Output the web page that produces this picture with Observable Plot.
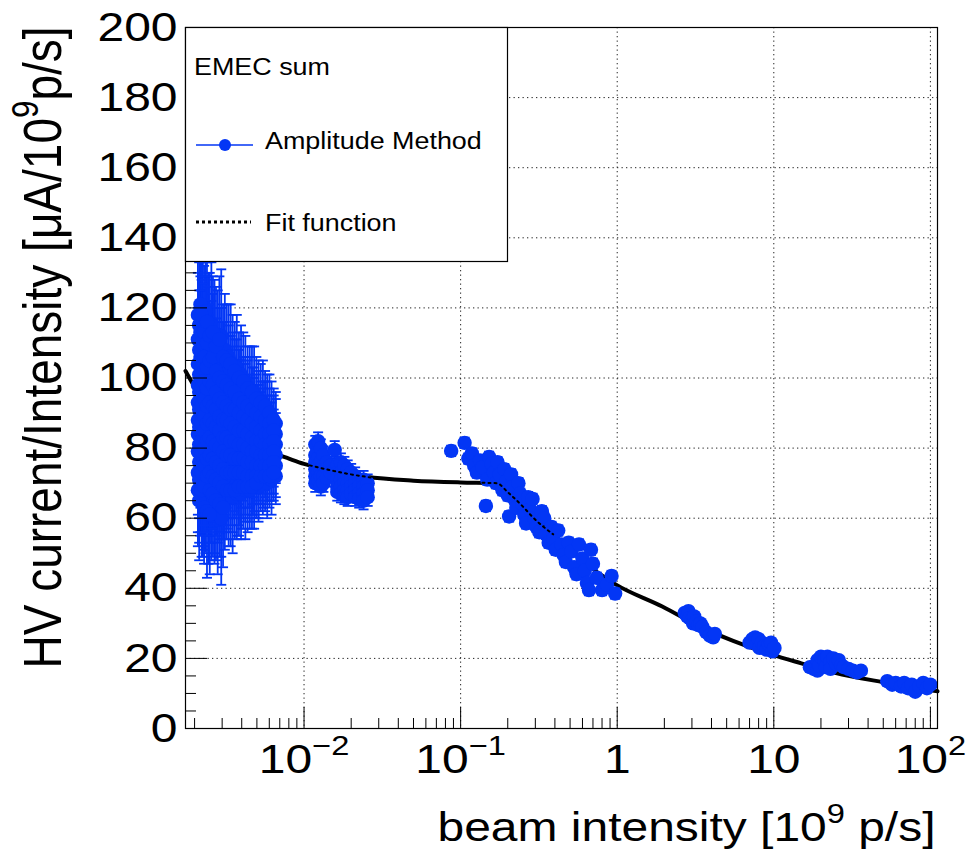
<!DOCTYPE html>
<html><head><meta charset="utf-8">
<script src="https://cdn.jsdelivr.net/npm/d3@7"></script>
<script src="https://cdn.jsdelivr.net/npm/@observablehq/plot@0.6"></script>
<style>
html,body{margin:0;padding:0;background:#fff;}
#chart{width:968px;height:854px;}
</style></head><body><div id="chart"></div>
<script>
// ---------- data ----------
// [beam intensity (1e9 p/s), current/intensity, error]
const clusterA = [
  [0.00210,118,17],[0.00210,111,19],[0.00210,104,16],[0.00210,98,18],[0.00210,93,15],[0.00210,88,17],[0.00210,84,16],[0.00210,79,18],[0.00210,73,17],[0.00210,68,16],
  [0.00218,121,18],[0.00218,113,16],[0.00218,106,19],[0.00218,100,17],[0.00218,95,16],[0.00218,90,18],[0.00218,85,15],[0.00218,80,17],[0.00218,75,19],[0.00218,70,15],
  [0.00226,116,17],[0.00226,109,18],[0.00226,102,15],[0.00226,97,19],[0.00226,92,17],[0.00226,87,16],[0.00226,83,18],[0.00226,77,16],[0.00226,72,20],[0.00226,66,17],
  [0.00235,119,19],[0.00235,112,17],[0.00235,105,16],[0.00235,99,18],[0.00235,94,15],[0.00235,89,17],[0.00235,84,19],[0.00235,78,16],[0.00235,73,18],[0.00235,67,17],
  [0.00245,114,16],[0.00245,108,18],[0.00245,101,17],[0.00245,96,15],[0.00245,91,18],[0.00245,86,16],[0.00245,81,17],[0.00245,76,19],[0.00245,71,16],[0.00245,65,18],
  [0.00256,115,18],[0.00256,107,15],[0.00256,100,17],[0.00256,95,16],[0.00256,90,19],[0.00256,85,17],[0.00256,80,15],[0.00256,75,18],[0.00256,70,17],[0.00256,64,16],
  [0.00268,111,17],[0.00268,104,16],[0.00268,98,18],[0.00268,93,15],[0.00268,88,17],[0.00268,84,16],[0.00268,79,18],[0.00268,74,15],[0.00268,69,19],[0.00268,63,16],
  [0.00281,110,15],[0.00281,103,17],[0.00281,97,16],[0.00281,92,18],[0.00281,87,15],[0.00281,83,17],[0.00281,78,16],[0.00281,73,17],[0.00281,68,15],[0.00281,62,18],
  [0.00296,112,19],[0.00296,104,16],[0.00296,96,17],[0.00296,91,15],[0.00296,86,16],[0.00296,82,18],[0.00296,77,15],[0.00296,72,16],[0.00296,67,18],[0.00296,60,19],
  [0.00312,108,16],[0.00312,101,15],[0.00312,95,17],[0.00312,90,16],[0.00312,86,14],[0.00312,81,16],[0.00312,76,15],[0.00312,71,17],[0.00312,66,15],
  [0.00330,106,15],[0.00330,99,16],[0.00330,94,14],[0.00330,89,16],[0.00330,85,15],[0.00330,80,14],[0.00330,76,16],[0.00330,71,15],[0.00330,66,14],
  [0.00350,104,14],[0.00350,98,15],[0.00350,93,16],[0.00350,88,14],[0.00350,84,15],[0.00350,80,13],[0.00350,75,15],[0.00350,70,14],[0.00350,66,16],
  [0.00372,103,15],[0.00372,97,14],[0.00372,92,13],[0.00372,88,15],[0.00372,84,14],[0.00372,79,13],[0.00372,75,14],[0.00372,70,15],[0.00372,67,13],
  [0.00396,101,14],[0.00396,96,13],[0.00396,91,14],[0.00396,87,12],[0.00396,83,14],[0.00396,79,13],[0.00396,75,12],[0.00396,71,14],[0.00396,67,13],
  [0.00422,99,13],[0.00422,94,12],[0.00422,90,14],[0.00422,86,12],[0.00422,82,13],[0.00422,78,12],[0.00422,74,13],[0.00422,71,12],[0.00422,68,14],
  [0.00450,97,12],[0.00450,93,13],[0.00450,89,12],[0.00450,85,11],[0.00450,81,13],[0.00450,78,12],[0.00450,74,11],[0.00450,71,12],[0.00450,68,11],
  [0.00480,96,13],[0.00480,92,11],[0.00480,88,12],[0.00480,84,11],[0.00480,81,12],[0.00480,77,11],[0.00480,74,12],[0.00480,71,10],[0.00480,69,12],
  [0.00512,94,11],[0.00512,90,12],[0.00512,87,11],[0.00512,83,10],[0.00512,80,11],[0.00512,77,12],[0.00512,74,10],[0.00512,71,11],[0.00512,69,10],
  [0.00546,93,12],[0.00546,89,10],[0.00546,86,11],[0.00546,83,10],[0.00546,80,11],[0.00546,77,10],[0.00546,74,11],[0.00546,71,10],
  [0.00582,91,10],[0.00582,88,11],[0.00582,85,10],[0.00582,82,9],[0.00582,79,10],[0.00582,76,11],[0.00582,73,9],[0.00582,70,10],
  [0.00620,89,10],[0.00620,86,9],[0.00620,83,10],[0.00620,80,9],[0.00620,77,10],[0.00620,74,9],[0.00620,71,10],
  [0.00660,87,9],[0.00660,84,10],[0.00660,81,9],[0.00660,78,8],[0.00660,75,9],[0.00660,72,8]
];
const clusterA2 = [
  [0.00214,115,18],[0.00214,108,17],[0.00214,101,19],[0.00214,96,16],[0.00214,91,18],[0.00214,86,15],[0.00214,81,17],[0.00214,76,16],[0.00214,71,18],[0.00214,65,17],
  [0.00222,118,16],[0.00222,110,18],[0.00222,103,17],[0.00222,97,15],[0.00222,92,19],[0.00222,87,16],[0.00222,82,18],[0.00222,78,15],[0.00222,73,17],[0.00222,68,19],
  [0.00230,113,19],[0.00230,106,16],[0.00230,99,18],[0.00230,94,17],[0.00230,89,15],[0.00230,85,18],[0.00230,80,16],[0.00230,75,17],[0.00230,69,18],[0.00230,63,16],
  [0.00240,116,17],[0.00240,110,19],[0.00240,103,16],[0.00240,97,17],[0.00240,92,16],[0.00240,87,18],[0.00240,82,15],[0.00240,77,17],[0.00240,72,16],[0.00240,62,19],
  [0.00250,112,18],[0.00250,105,16],[0.00250,99,17],[0.00250,93,19],[0.00250,88,15],[0.00250,83,17],[0.00250,78,16],[0.00250,73,18],[0.00250,68,15],[0.00250,61,17],
  [0.00262,113,16],[0.00262,106,18],[0.00262,98,15],[0.00262,92,17],[0.00262,87,18],[0.00262,82,16],[0.00262,77,17],[0.00262,72,15],[0.00262,67,18],
  [0.00274,109,17],[0.00274,102,15],[0.00274,96,18],[0.00274,91,16],[0.00274,86,17],[0.00274,81,15],[0.00274,76,18],[0.00274,71,16],[0.00274,65,17],
  [0.00288,111,18],[0.00288,100,16],[0.00288,94,15],[0.00288,89,17],[0.00288,85,16],[0.00288,80,15],[0.00288,75,17],[0.00288,70,16],[0.00288,64,15],
  [0.00304,106,15],[0.00304,99,17],[0.00304,93,16],[0.00304,88,15],[0.00304,83,17],[0.00304,79,14],[0.00304,74,16],[0.00304,69,15],[0.00304,63,17],
  [0.00321,105,16],[0.00321,98,14],[0.00321,92,15],[0.00321,88,16],[0.00321,83,14],[0.00321,78,15],[0.00321,73,16],[0.00321,68,14],
  [0.00340,104,17],[0.00340,97,15],[0.00340,91,14],[0.00340,87,15],[0.00340,82,16],[0.00340,78,14],[0.00340,73,15],[0.00340,68,16],
  [0.00361,102,14],[0.00361,96,15],[0.00361,91,13],[0.00361,86,15],[0.00361,82,14],[0.00361,77,15],[0.00361,73,13],[0.00361,68,14],
  [0.00384,100,13],[0.00384,94,14],[0.00384,90,15],[0.00384,85,13],[0.00384,81,14],[0.00384,77,13],[0.00384,73,15],[0.00384,69,14],
  [0.00409,99,14],[0.00409,93,13],[0.00409,89,12],[0.00409,85,14],[0.00409,81,13],[0.00409,77,12],[0.00409,73,13],[0.00409,69,12],
  [0.00436,97,12],[0.00436,92,13],[0.00436,88,12],[0.00436,84,13],[0.00436,80,12],[0.00436,76,13],[0.00436,72,12],[0.00436,69,13],
  [0.00465,96,13],[0.00465,91,12],[0.00465,87,11],[0.00465,83,12],[0.00465,79,11],[0.00465,76,12],[0.00465,72,11],[0.00465,69,12],
  [0.00496,94,12],[0.00496,90,11],[0.00496,86,12],[0.00496,82,11],[0.00496,79,12],[0.00496,75,11],[0.00496,72,12],[0.00496,70,10],
  [0.00529,93,11],[0.00529,89,10],[0.00529,85,11],[0.00529,82,12],[0.00529,78,10],[0.00529,75,11],[0.00529,72,10],
  [0.00564,92,10],[0.00564,88,11],[0.00564,84,10],[0.00564,81,11],[0.00564,78,10],[0.00564,75,9],[0.00564,72,10],
  [0.00601,90,11],[0.00601,87,10],[0.00601,84,9],[0.00601,81,10],[0.00601,78,9],[0.00601,75,10],[0.00601,72,9],
  [0.00640,88,9],[0.00640,85,10],[0.00640,82,9],[0.00640,79,10],[0.00640,76,9],[0.00640,73,8]
];
const clusterB = [
  [0.0118,81,2.5],[0.0118,78,2.5],[0.0118,76,2.5],[0.0118,74,2.5],[0.0118,72,2.5],[0.0118,70,2.5],
  [0.0123,82,2.5],[0.0123,77,2.5],[0.0123,75,2.5],[0.0123,73,2.5],[0.0123,71,2.5],
  [0.0128,80,2.5],[0.0128,76,2.5],[0.0128,74,2.5],[0.0128,72,2.5],[0.0128,69,2.5],
  [0.0133,78,2.5],[0.0133,75,2.5],[0.0133,72,2.5],[0.0133,70,2.5],
  [0.0140,76,2.5],[0.0140,74,2.5],[0.0140,71.5,2.5],
  [0.0148,75,2.5],[0.0148,73,2.5],
  [0.0157,79.5,2.5],
  [0.0163,75,2.5],[0.0163,73,2.5],[0.0163,71,2.5],[0.0163,69,2.5],[0.0163,67.5,2.5],
  [0.0172,76,2.5],[0.0172,73,2.5],[0.0172,71,2.5],[0.0172,69,2.5],[0.0172,67,2.5],
  [0.0181,75,2.5],[0.0181,72,2.5],[0.0181,70,2.5],[0.0181,68,2.5],[0.0181,66.5,2.5],
  [0.0190,74,2.5],[0.0190,72,2.5],[0.0190,70,2.5],[0.0190,68,2.5],[0.0190,66,2.5],
  [0.0200,73,2.5],[0.0200,71,2.5],[0.0200,69,2.5],[0.0200,67,2.5],
  [0.0212,72,2.5],[0.0212,70,2.5],[0.0212,68,2.5],[0.0212,66,2.5],
  [0.0225,71,2.5],[0.0225,69,2.5],[0.0225,67,2.5],[0.0225,65.5,2.5],
  [0.0240,71,2.5],[0.0240,69,2.5],[0.0240,67,2.5],[0.0240,65,2.5],
  [0.0255,70,2.5],[0.0255,68,2.5],[0.0255,66,2.5]
];
const clusterC = [
  [0.087,79.2,1.5],[0.106,81.5,1.5],[0.112,77,1.5],[0.118,78.5,1.5],[0.122,75,1.5],[0.127,73,1.5],
  [0.133,76.5,1.5],[0.138,74.5,1.5],[0.145,63.5,1.5],[0.148,71,1.5],[0.152,77.5,1.5],[0.158,75.5,1.5],
  [0.163,73,1.5],[0.168,70,1.5],[0.172,76,1.5],[0.178,72.5,1.5],[0.185,68,1.5],[0.19,74,1.5],
  [0.196,70.5,1.5],[0.2,66.5,1.5],[0.204,60.5,1.5],[0.21,72.5,1.5],[0.215,69,1.5],[0.22,65.5,1.5],
  [0.227,63,1.5],[0.234,70,1.5],[0.24,67,1.5],[0.248,64,1.5],[0.255,61,1.5],[0.262,58.5,1.5],
  [0.27,66,1.5],[0.278,62.5,1.5],[0.288,65.5,1.5],[0.295,60,1.5],[0.305,57.5,1.5],[0.318,56,1.5],
  [0.33,62,1.5],[0.342,60,1.5],[0.35,55.5,1.5],[0.365,53,1.5],[0.38,57.5,1.5],[0.39,54,1.5],
  [0.405,51,1.5],[0.42,56.5,1.5],[0.44,52.5,1.5],[0.455,49.5,1.5],[0.47,47.5,1.5],[0.49,53,1.5],
  [0.51,50.5,1.5],[0.53,46,1.5],[0.55,44,1.5],[0.57,52.5,1.5],[0.6,48.5,1.5],[0.62,45,1.5],
  [0.64,41.5,1.5],[0.66,39.5,1.5],[0.68,51,1.5],[0.7,47,1.5],[0.74,43,1.5],[0.8,39.5,1.5],
  [0.86,41,1.5],[0.92,43.5,1.5],[0.97,38.5,1.5]
];
const clusterD = [
  [2.7,33,0.8],[2.8,32,0.8],[2.85,33.5,0.8],[2.9,31.5,0.8],[3.0,31,0.8],[3.05,30,0.8],[3.1,32,0.8],
  [3.2,30.5,0.8],[3.3,29.5,0.8],[3.4,30,0.8],[3.5,29,0.8],[3.7,27.5,0.8],[3.9,26.5,0.8],[4.1,26,0.8],[4.2,27,0.8]
];
const clusterE = [
  [7.0,24.5,0.8],[7.3,25.5,0.8],[7.6,26,0.8],[7.8,24,0.8],[8.0,25.5,0.8],[8.1,23,0.8],[8.4,24.5,0.8],
  [8.7,23.5,0.8],[9.0,22.5,0.8],[9.3,24,0.8],[9.6,24.5,0.8],[9.8,22,0.8],[10.1,23,0.8]
];
const clusterF = [
  [17,17.5,0.6],[18,17,0.6],[19,19.5,0.6],[19,16.5,0.6],[19.5,18,0.6],[20,20.5,0.6],[21,19.5,0.6],
  [21.5,17.5,0.6],[22,20.5,0.6],[23,19,0.6],[23,17,0.6],[24,20,0.6],[25,18.5,0.6],[26,19.5,0.6],
  [27,18,0.6],[28,17.5,0.6],[30,17,0.6],[32,16.5,0.6],[34,16,0.6],[36,16.5,0.6]
];
const clusterG = [
  [53,13.5,0.5],[57,12.5,0.5],[60,13,0.5],[65,12,0.5],[68,13,0.5],[72,11.5,0.5],
  [76,12.5,0.5],[80,10.5,0.5],[85,12,0.5],[90,13,0.5],[95,11.5,0.5],[100,12.5,0.5]
];
const fitX = [0.00175,0.002,0.0025,0.003,0.004,0.005,0.0063,0.008,0.01,0.015,0.025,0.05,0.1,0.17,0.2,0.25,0.29,0.39,0.6,0.97,1.94,3.5,5.5,9.7,15,24.6,50,111];
const fitY = [102,97.5,91.5,87.5,83.5,80.8,78.7,77,75.5,73.6,71.8,70.7,70.2,70,67.4,63.3,60.2,55.4,47.8,41.2,34.8,28.7,25,21.1,18.6,15.9,13.2,10.6];

const xMajorTicks = [0.01, 0.1, 1, 10, 100];
const xTickLabels = ["10^{\u22122}", "10^{\u22121}", "1", "10", "10^{2}"];
const yMajorTicks = [0, 20, 40, 60, 80, 100, 120, 140, 160, 180, 200];
const yTickLabels = ["0", "20", "40", "60", "80", "100", "120", "140", "160", "180", "200"];
const xTitle = "beam intensity [10^{9} p/s]";
const yTitle = "HV current/Intensity [\u03bcA/10^{9}p/s]";
const legendHeader = "EMEC sum";
const legendData = "Amplitude Method";
const legendFit = "Fit function";

// ---------- build ----------
const BLUE = "#0336f5";
const W = 968, H = 854, mL = 185, mR = 31, mT = 27, mB = 126;
const plotW = W - mL - mR, plotH = H - mT - mB;
const STRETCH = 1.17;
const FONT = "'Liberation Sans', Arial, Helvetica, sans-serif";

const points = [...clusterA, ...clusterA2, ...clusterB, ...clusterC, ...clusterD, ...clusterE, ...clusterF, ...clusterG]
  .map(([x, y, e]) => ({x, y, e}));
const fit = fitX.map((x, i) => ({x, y: fitY[i]}));
const xDomain = [0.00175, 111];
const xMinorTicks = [];
for (let k = -3; k <= 2; k++) for (let m = 2; m <= 9; m++) {
  const v = m * Math.pow(10, k);
  if (v > xDomain[0] && v < xDomain[1]) xMinorTicks.push(v);
}
const yMinorTicks = d3.range(5, 200, 5).filter(v => v % 20 !== 0);

const capSymbol = {draw(ctx) { ctx.moveTo(-5, 0); ctx.lineTo(5, 0); }};

const chart = Plot.plot({
  width: W, height: H,
  marginLeft: mL, marginRight: mR, marginTop: mT, marginBottom: mB,
  style: {fontFamily: FONT, background: "white", color: "black", overflow: "visible"},
  x: {type: "log", domain: xDomain, axis: null},
  y: {domain: [0, 200], axis: null},
  marks: [
    Plot.ruleX(xMajorTicks, {stroke: "#222", strokeWidth: 1, strokeDasharray: "1.3,3.2"}),
    Plot.ruleY(yMajorTicks.slice(1, -1), {stroke: "#222", strokeWidth: 1, strokeDasharray: "1.3,3.2"}),
    Plot.line(fit, {x: "x", y: "y", stroke: "black", strokeWidth: 4, curve: "monotone-x"}),
    Plot.ruleX(points, {x: "x", y1: d => d.y - d.e, y2: d => d.y + d.e, stroke: BLUE, strokeWidth: 1.8}),
    Plot.dot(points, {x: "x", y: d => d.y + d.e, symbol: capSymbol, r: 5, stroke: BLUE, strokeWidth: 1.8}),
    Plot.dot(points, {x: "x", y: d => d.y - d.e, symbol: capSymbol, r: 5, stroke: BLUE, strokeWidth: 1.8}),
    Plot.dot(points, {x: "x", y: "y", r: 7.2, fill: BLUE}),
    Plot.line(fit.filter(d => d.x >= 0.01 && d.x <= 0.4), {x: "x", y: "y", stroke: "black", strokeWidth: 2, strokeDasharray: "2,4", curve: "monotone-x"}),
    Plot.ruleX(xMajorTicks, {stroke: "black", insetTop: plotH - 21}),
    Plot.ruleX(xMinorTicks, {stroke: "black", insetTop: plotH - 10}),
    Plot.ruleY(yMajorTicks, {stroke: "black", insetRight: plotW - 22}),
    Plot.ruleY(yMinorTicks, {stroke: "black", insetRight: plotW - 11}),
    Plot.frame({stroke: "black", strokeWidth: 1.2}),
    Plot.text(yMajorTicks, {y: d => d, text: (d, i) => yTickLabels[i], frameAnchor: "left", dx: -8, textAnchor: "end", fontSize: 41, fill: "black"}),
    Plot.text(xMajorTicks, {x: d => d, text: (d, i) => xTickLabels[i], frameAnchor: "bottom", dy: 44, fontSize: 41, fill: "black"}),
    Plot.text([xTitle], {text: d => d, frameAnchor: "bottom-right", dx: -2, dy: 112, textAnchor: "end", lineAnchor: "bottom", fontSize: 41, fill: "black"}),
    Plot.text([yTitle], {text: d => d, frameAnchor: "top-left", dx: -125, dy: -1, rotate: -90, textAnchor: "end", lineAnchor: "bottom", fontSize: 46, fill: "black"})
  ]
});
document.getElementById("chart").appendChild(chart);

// ---------- legend (ROOT TLegend box) ----------
const svg = d3.select(chart);
const lg = svg.append("g").attr("font-family", FONT).attr("text-anchor", "start");
lg.append("rect").attr("x", mL + 0.5).attr("y", mT + 0.5).attr("width", 322).attr("height", 234)
  .attr("fill", "white").attr("stroke", "black").attr("stroke-width", 1.2);
lg.append("text").attr("transform", `translate(${mL + 9},75)`).attr("font-size", 23).attr("text-anchor", "start").text(legendHeader);
lg.append("line").attr("x1", mL + 11).attr("x2", mL + 68).attr("y1", 145).attr("y2", 145).attr("stroke", BLUE).attr("stroke-width", 1.5);
lg.append("circle").attr("cx", mL + 40).attr("cy", 145).attr("r", 6).attr("fill", BLUE);
lg.append("text").attr("transform", `translate(${mL + 80},149)`).attr("font-size", 23).attr("text-anchor", "start").text(legendData);
lg.append("line").attr("x1", mL + 11).attr("x2", mL + 66).attr("y1", 222).attr("y2", 222).attr("stroke", "black").attr("stroke-width", 3).attr("stroke-dasharray", "3,3");
lg.append("text").attr("transform", `translate(${mL + 80},231)`).attr("font-size", 23).attr("text-anchor", "start").text(legendFit);

// ---------- post-processing: superscripts and ROOT-like wide glyphs ----------
const NS = "http://www.w3.org/2000/svg";
chart.querySelectorAll("text").forEach(t => {
  const s = t.textContent;
  if (s.includes("^{")) {
    const fs = parseFloat(getComputedStyle(t).fontSize);
    const offY = t.getAttribute("y");
    let first = t.querySelector("tspan");
    const tspanY = first ? first.getAttribute("y") : null;
    while (t.firstChild) t.removeChild(t.firstChild);
    if (!offY && tspanY) t.setAttribute("y", tspanY);
    const re = /\^\{([^}]*)\}/g;
    let last = 0, m; const parts = [];
    while ((m = re.exec(s))) { parts.push([s.slice(last, m.index), false]); parts.push([m[1], true]); last = re.lastIndex; }
    parts.push([s.slice(last), false]);
    let up = false;
    for (const [txt, sup] of parts) {
      if (!txt) continue;
      const ts = document.createElementNS(NS, "tspan");
      ts.textContent = txt;
      if (sup) { ts.setAttribute("font-size", fs * 0.68); ts.setAttribute("dy", -fs * 0.42); up = true; }
      else if (up) { ts.setAttribute("dy", fs * 0.42); up = false; }
      t.appendChild(ts);
    }
  }
  const tr = t.getAttribute("transform");
  if (tr && /^translate\([^)]*\)/.test(tr)) {
    t.setAttribute("transform", tr.replace(/^(translate\([^)]*\))/, `$1 scale(${STRETCH},1)`));
  } else {
    const x = +(t.getAttribute("x") || 0), y = +(t.getAttribute("y") || 0);
    t.setAttribute("transform", `translate(${x},${y}) scale(${STRETCH},1) translate(${-x},${-y})`);
  }
});
</script>
</body></html>
